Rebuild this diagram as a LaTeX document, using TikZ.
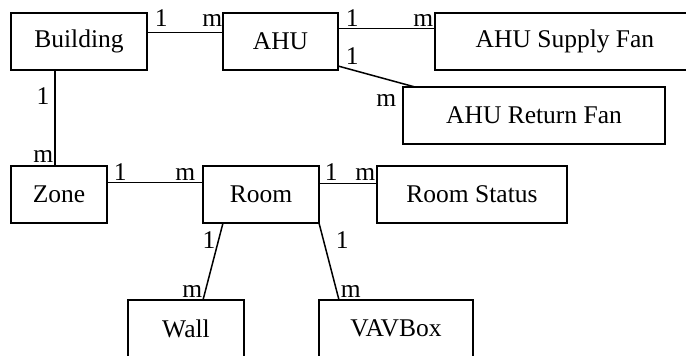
\documentclass[tikz,border=0pt]{standalone}
\usepackage{fontspec}
\setmainfont{Liberation Serif}
\usepackage{tikz}
\usetikzlibrary{positioning}
\tikzset{
  % Entity box
  EB/.style={rectangle,draw,line width=1.5pt,inner sep=0pt,outer sep=0pt,
             minimum height=57pt,text centered,
             font=\fontsize{25.5}{30}\selectfont},
  % Link line
  lnk/.style={line width=1.5pt},
  % Cardinality label
  LB/.style={inner sep=0pt,font=\fontsize{25.5}{30}\selectfont}
}
\begin{document}
\begin{tikzpicture}[x=1pt,y=1pt]
  \useasboundingbox (0,0) rectangle (686,-356);

  %------ ROW 1: BUILDING / AHU ------
  \node[EB,minimum width=136pt,anchor=north west] (building) at (11,-13) {Building};
  \node[EB,minimum width=115pt,right=76pt of building] (ahu) {AHU};
  \node[EB,minimum width=260pt,right=97pt of ahu] (supply) {AHU Supply Fan};
  \node[EB,minimum width=262pt,below right=17pt and 65pt of ahu.south east,
        anchor=north west] (retfan) {AHU Return Fan};

  %------ ROW 2: ZONE / ROOM ------
  \node[EB,minimum width=96pt,below=96pt of building.south west,
        anchor=north west] (zone) {Zone};
  \node[EB,minimum width=116pt,right=96pt of zone] (room) {Room};
  \node[EB,minimum width=190pt,right=58pt of room] (status) {Room Status};

  %------ ROW 3: WALL / VAVBOX ------
  \node[EB,minimum width=116pt,below=77pt of room.south west,xshift=-75pt,
        anchor=north west] (wall) {Wall};
  \node[EB,minimum width=154pt,below=77pt of room.south east,
        anchor=north west] (vav) {VAVBox};

  % Row 1 links
  \draw[lnk] ([yshift=9pt]building.east)
    -- node[LB,at start,anchor=south west,xshift=7pt,yshift=5pt]{1}
       node[LB,at end,anchor=south east,yshift=5pt]{m}
    ([yshift=9pt]ahu.west);
  \draw[lnk] ([yshift=13pt]ahu.east)
    -- node[LB,at start,anchor=south west,xshift=7pt,yshift=1pt]{1}
       node[LB,at end,anchor=south east,xshift=-1pt,yshift=1pt]{m}
    ([yshift=13pt]supply.west);
  \draw[lnk] ([yshift=4pt]ahu.south east)
    -- node[LB,at start,anchor=south west,xshift=7pt,yshift=1pt]{1}
       node[LB,at end,anchor=south east,xshift=-18pt,yshift=-20pt]{m}
    ([xshift=12pt]retfan.north west);

  % Building to zone
  \draw[lnk] ([xshift=44pt]building.south west)
    -- node[LB,at start,anchor=south east,xshift=-5pt,yshift=-35pt]{1}
       node[LB,at end,anchor=south east,xshift=-1pt,yshift=3pt]{m}
    ([xshift=44pt]zone.north west);

  % Row 2 links
  \draw[lnk] ([yshift=12pt]zone.east)
    -- node[LB,at start,anchor=south west,xshift=6pt,yshift=1pt]{1}
       node[LB,at end,anchor=south east,xshift=-7pt,yshift=1pt]{m}
    ([yshift=12pt]room.west);
  \draw[lnk] ([yshift=11pt]room.east)
    -- node[LB,at start,anchor=south west,xshift=5pt,yshift=2pt]{1}
       node[LB,at end,anchor=south east,xshift=-1pt,yshift=2pt]{m}
    ([yshift=11pt]status.west);

  % Room to wall and box
  \draw[lnk] ([xshift=20pt]room.south west)
    -- node[LB,at start,anchor=south east,xshift=-7pt,yshift=-26pt]{1}
       node[LB,at end,anchor=south east,yshift=2pt]{m}
    ([xshift=75pt]wall.north west);
  \draw[lnk] (room.south east)
    -- node[LB,at start,anchor=south west,xshift=16pt,yshift=-26pt]{1}
       node[LB,at end,anchor=south west,xshift=1pt,yshift=2pt]{m}
    ([xshift=20pt]vav.north west);
\end{tikzpicture}
\end{document}
